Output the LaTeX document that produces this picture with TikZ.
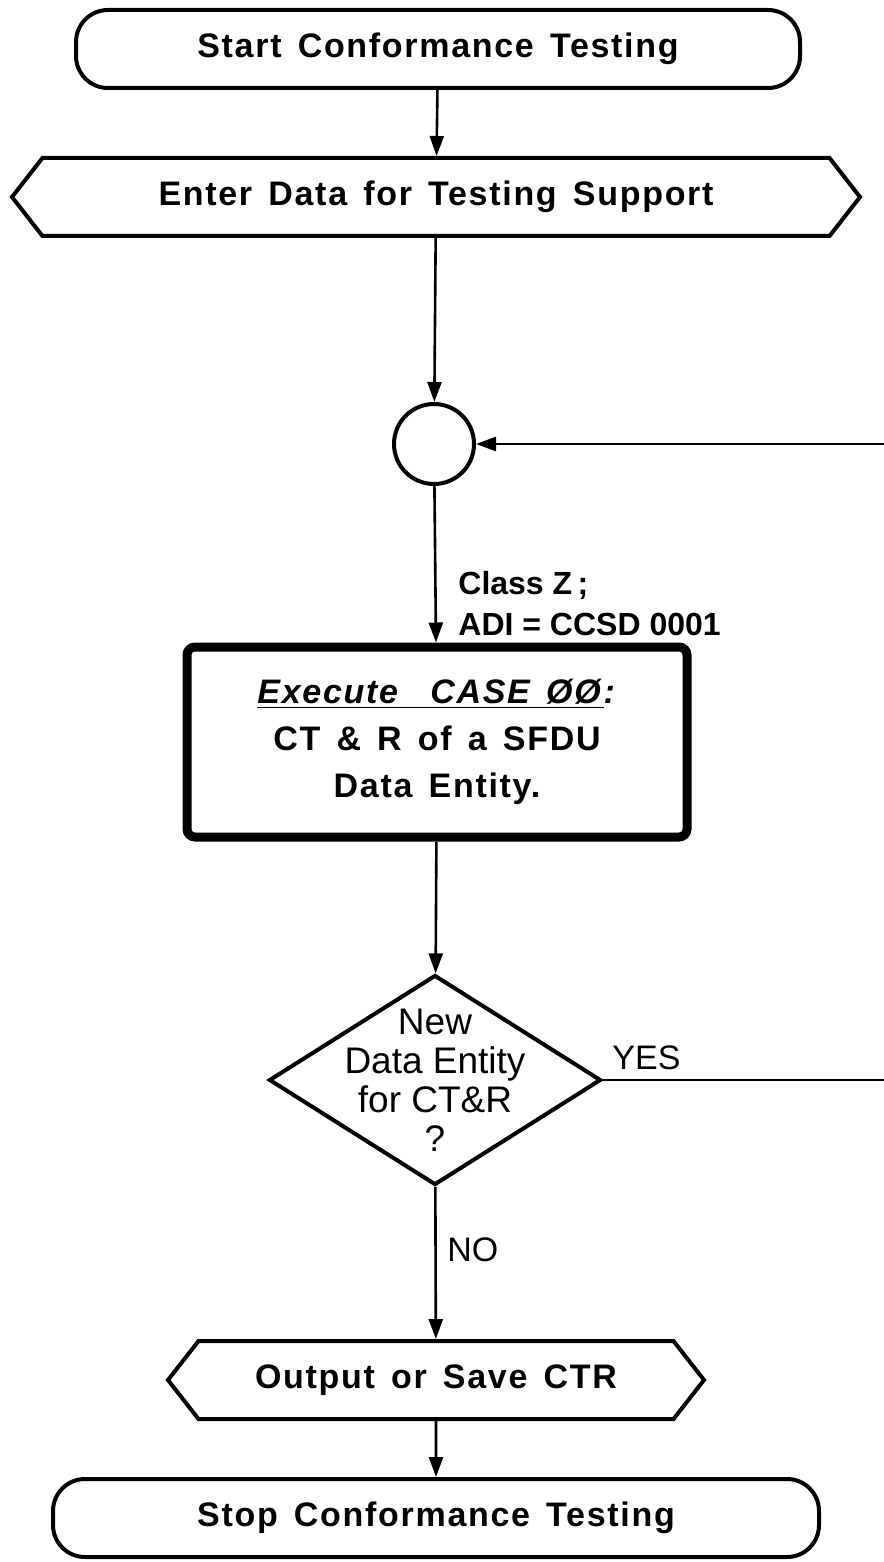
\documentclass[tikz,border=0pt]{standalone}
\usepackage{fontspec}
\setmainfont{Liberation Sans}
\newfontfamily\plotfont[LetterSpace=5,WordSpace=1.45]{Liberation Sans}
\usetikzlibrary{arrows.meta,positioning,shapes.geometric,shapes.symbols}

\begin{document}
\begin{tikzpicture}[
  x=0.5pt, y=-0.5pt,
  font=\fontsize{17}{20}\selectfont,
  terminal/.style={draw, rounded corners=16pt, minimum height=39pt, line width=2pt,
    font=\plotfont\bfseries\fontsize{17}{20}\selectfont},
  iobox/.style={draw, signal, signal to=west and east, signal pointer angle=104,
    minimum height=39pt, line width=2pt, inner xsep=0pt,
    font=\plotfont\bfseries\fontsize{17}{20}\selectfont},
  joint/.style={draw, circle, minimum size=40pt, line width=2pt},
  process/.style={draw, rounded corners=4pt, minimum width=250pt, minimum height=95pt,
    line width=4.5pt, align=center, font=\plotfont\bfseries\fontsize{17}{23.5}\selectfont},
  decision/.style={draw, diamond, minimum width=166pt, minimum height=105pt,
    inner sep=0pt, line width=2pt},
  note/.style={align=left, inner sep=0pt, font=\bfseries\fontsize{16}{20.5}\selectfont},
  flow/.style={-{Triangle[length=10pt, width=7pt]}, line width=1.3pt}
]
\useasboundingbox (0,0) rectangle (883,1562);

\node[terminal, minimum width=362pt] (start) at (438,49) {Start Conformance Testing};
\node[iobox, minimum width=424pt] (enter) at (436,197) {Enter Data for Testing Support};
\node[joint] (join) at (434,444) {};
\node[process] (exec) at (437,742)
  {\underline{\textit{Execute\ \ CASE ØØ}}\textit{:}\\CT \& R of a SFDU\\Data Entity.};
\node[decision, label={[align=center, font=\fontsize{18.5}{19.5}\selectfont]center:{New\\Data Entity\\for CT\&R\\?}}]
  (newde) at (435,1080) {};
\node[iobox, minimum width=268pt] (output) at (436,1380) {Output or Save CTR};
\node[terminal, minimum width=383pt] (stop) at (436,1518) {Stop Conformance Testing};

% labels on the flow lines
\node[note, anchor=south west] (adi) at (458,636) {Class Z\,;\\ADI = CCSD 0001};
\node[anchor=south west, inner sep=0pt] (yes) at (612,1070) {YES};
\node[anchor=west, inner sep=0pt] (no) at (447,1250) {NO};

% loop back from YES, runs off the right edge
\coordinate (loopout) at (905,1080);
\coordinate (loopin) at (905,444);

\draw[flow] (start) -- (enter);
\draw[flow] (enter) -- (join);
\draw[flow] (join) -- (exec);
\draw[flow] (exec) -- (newde);
\draw[flow] (newde) -- (output);
\draw[flow] (output) -- (stop);
\draw[flow] (newde.east) -- (loopout) -- (loopin) -- (join.east);
\end{tikzpicture}
\end{document}
